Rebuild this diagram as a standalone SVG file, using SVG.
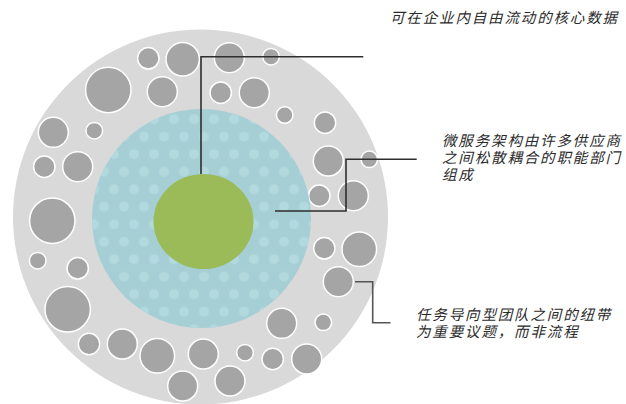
<svg xmlns="http://www.w3.org/2000/svg" width="626" height="404" viewBox="0 0 626 404">
<style>
.b{fill:#a5a5a5;stroke:#ffffff;stroke-width:1.5}
.t{font-family:"Liberation Sans","Noto Sans CJK SC",sans-serif;font-style:italic;font-size:14.5px;letter-spacing:1.85px;fill:#2b2b2b}
.c{fill:none;stroke:#2e2e2e;stroke-width:1.6}
.c2{fill:none;stroke:#555555;stroke-width:1.6}
</style>
<defs>
<pattern id="dots" patternUnits="userSpaceOnUse" x="144" y="136.7" width="20" height="35">
<circle cx="0" cy="0" r="5" fill="#b2d9dd"/>
<circle cx="20" cy="0" r="5" fill="#b2d9dd"/>
<circle cx="0" cy="35" r="5" fill="#b2d9dd"/>
<circle cx="20" cy="35" r="5" fill="#b2d9dd"/>
<circle cx="10" cy="17.5" r="5" fill="#b2d9dd"/>
</pattern>
</defs>
<rect width="626" height="404" fill="#ffffff"/>
<g id="outer-ring">
<circle cx="200.5" cy="217" r="187.5" fill="#d9d9d9"/>
<circle class="b" cx="148.3" cy="58.3" r="10.7"/>
<circle class="b" cx="182.7" cy="59.3" r="16.7"/>
<circle class="b" cx="229.3" cy="57.7" r="15"/>
<circle class="b" cx="271" cy="56.7" r="8.3"/>
<circle class="b" cx="108.3" cy="90" r="22.7"/>
<circle class="b" cx="162.3" cy="91.7" r="15"/>
<circle class="b" cx="220.7" cy="92.7" r="10.7"/>
<circle class="b" cx="254.3" cy="92.7" r="15"/>
<circle class="b" cx="284.7" cy="115" r="8.3"/>
<circle class="b" cx="325" cy="122.7" r="10.7"/>
<circle class="b" cx="53.3" cy="132.3" r="15"/>
<circle class="b" cx="94.3" cy="130.7" r="8.3"/>
<circle class="b" cx="328.3" cy="161" r="15"/>
<circle class="b" cx="369.3" cy="159.3" r="8.3"/>
<circle class="b" cx="44.3" cy="166.7" r="10.7"/>
<circle class="b" cx="77.7" cy="166.7" r="15"/>
<circle class="b" cx="319.3" cy="195.7" r="10.7"/>
<circle class="b" cx="353.3" cy="195.7" r="15"/>
<circle class="b" cx="52.3" cy="220.7" r="22.7"/>
<circle class="b" cx="324.3" cy="248.3" r="10.7"/>
<circle class="b" cx="359.3" cy="249.3" r="17.3"/>
<circle class="b" cx="37.7" cy="260.7" r="8.3"/>
<circle class="b" cx="77.7" cy="268.3" r="10.7"/>
<circle class="b" cx="338.3" cy="281.7" r="15"/>
<circle class="b" cx="67.7" cy="309.3" r="22.7"/>
<circle class="b" cx="281.7" cy="323.3" r="15"/>
<circle class="b" cx="323.3" cy="322.3" r="8.3"/>
<circle class="b" cx="89" cy="344" r="10.7"/>
<circle class="b" cx="122.3" cy="344" r="15"/>
<circle class="b" cx="157.3" cy="355.7" r="17.3"/>
<circle class="b" cx="203.3" cy="354" r="15"/>
<circle class="b" cx="245" cy="352.7" r="8.3"/>
<circle class="b" cx="272.7" cy="359" r="10.7"/>
<circle class="b" cx="306.7" cy="359" r="15"/>
<circle class="b" cx="182.7" cy="386" r="15"/>
<circle class="b" cx="230" cy="381" r="15"/>
</g>
<g id="middle-ring">
<circle cx="201.5" cy="218.5" r="109.5" fill="#a5cfd4"/>
<circle cx="201.5" cy="218.5" r="109.5" fill="url(#dots)"/>
</g>
<g id="core">
<ellipse cx="203.5" cy="221.5" rx="50" ry="47.5" fill="#9bbb59"/>
</g>
<g id="connectors">
<polyline class="c" points="201,174 201,56.7 363.3,56.7"/>
<polyline class="c" points="275,211 346,211 346,159.3 416.7,159.3"/>
<polyline class="c2" points="355,281.7 372.7,281.7 372.7,322.7 390.5,322.7"/>
</g>
<g id="label-core">
<text class="t" x="390" y="22.5">可在企业内自由流动的核心数据</text>
</g>
<g id="label-middle">
<text class="t" x="442" y="145.5">微服务架构由许多供应商<tspan x="442" y="163">之间松散耦合的职能部门</tspan><tspan x="442" y="180.3">组成</tspan></text>
</g>
<g id="label-outer">
<text class="t" x="416" y="319.5">任务导向型团队之间的纽带<tspan x="416" y="336.5">为重要议题，而非流程</tspan></text>
</g>
</svg>
